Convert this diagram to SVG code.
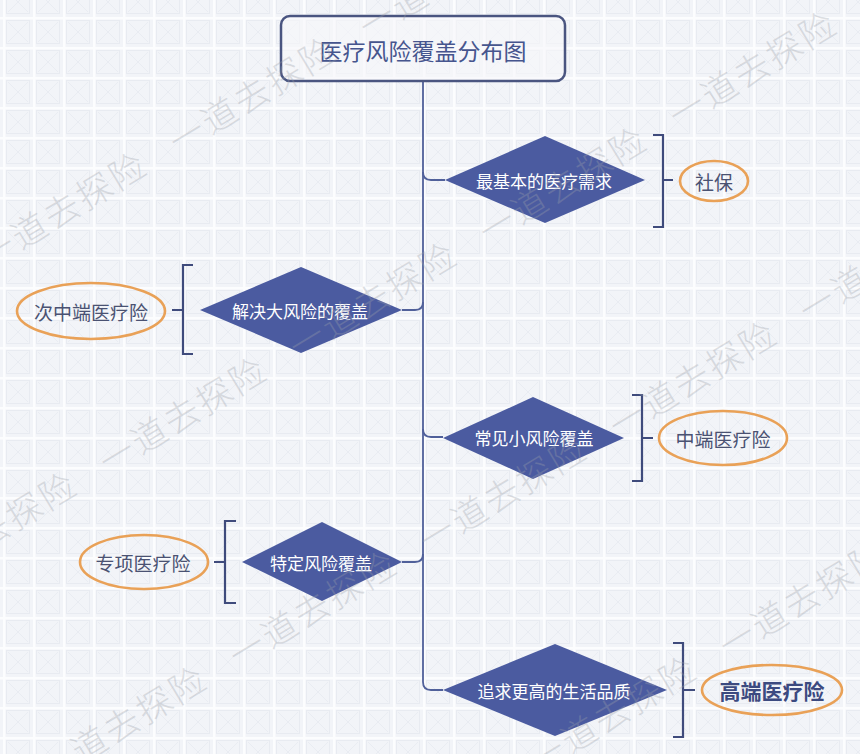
<svg xmlns="http://www.w3.org/2000/svg" width="860" height="754" viewBox="0 0 860 754">
<defs>
<pattern id="grid" x="3" y="17" width="30" height="30" patternUnits="userSpaceOnUse">
<rect width="30" height="30" fill="#f2f4f8"/>
<path d="M5,5 L25,25 M25,5 L5,25" stroke="#e9ecf2" stroke-width="1" fill="none"/>
<rect x="3.5" y="3.5" width="23" height="23" fill="none" stroke="#e8ebf1" stroke-width="1"/>
<rect x="0" y="0" width="2.5" height="30" fill="#fcfdfe"/>
<rect x="0" y="0" width="30" height="2.5" fill="#fcfdfe"/>
</pattern>
<style>
.conn{fill:none;stroke:#50609a;stroke-width:1.8}
.brk{fill:none;stroke:#3f4b7c;stroke-width:2.2}
.dia{fill:#4b5ba0}
.dt{font-family:"Noto Sans CJK SC","Noto Sans",sans-serif;font-size:17px;fill:#ffffff;text-anchor:middle;dominant-baseline:central}
.ell{fill:none;stroke:#e9a157;stroke-width:2.6}
.et{font-family:"Noto Sans CJK SC","Noto Sans",sans-serif;font-size:19px;fill:#4a5272;text-anchor:middle;dominant-baseline:central}
.etb{font-family:"Noto Sans CJK SC","Noto Sans",sans-serif;font-size:21px;font-weight:bold;fill:#3c4a80;text-anchor:middle;dominant-baseline:central}
.wm{font-family:"Noto Sans CJK SC",sans-serif;font-size:35px;font-weight:300;fill:#9ca1aa;opacity:0.32;letter-spacing:3px;dominant-baseline:central}
</style>
</defs>
<rect width="860" height="754" fill="url(#grid)"/>

<g id="connectors">
<path class="conn" d="M423,81 V682 Q423,690 431,690 H443"/>
<path class="conn" d="M423,172 Q423,180 431,180 H445"/>
<path class="conn" d="M423,302 Q423,310 415,310 H402"/>
<path class="conn" d="M423,429 Q423,437 431,437 H443"/>
<path class="conn" d="M423,554 Q423,562 415,562 H402"/>
<path class="brk" d="M653,135 H663 V227 H653 M663,180 H673"/>
<path class="brk" d="M193,265 H183 V354 H193 M183,310 H172"/>
<path class="brk" d="M632,395 H642 V481 H632 M642,438 H653"/>
<path class="brk" d="M236,521 H225 V603 H236 M225,562 H214"/>
<path class="brk" d="M673,643 H683 V737 H673 M683,690 H695"/>
</g>

<g id="title">
<rect x="281" y="16" width="284" height="65" rx="9" fill="#f6f7fa" fill-opacity="0.6" stroke="#4a5580" stroke-width="2.5"/>
<text x="423" y="50" font-family="'Noto Sans CJK SC','Noto Sans',sans-serif" font-size="23" fill="#46558e" text-anchor="middle" dominant-baseline="central">医疗风险覆盖分布图</text>
</g>

<g id="d1"><polygon class="dia" points="445,180 545,136 645,180 545,223"/><text class="dt" x="544" y="180">最基本的医疗需求</text></g>
<g id="d2"><polygon class="dia" points="200,310 301,267 402,310 301,353"/><text class="dt" x="300" y="310">解决大风险的覆盖</text></g>
<g id="d3"><polygon class="dia" points="443,438 533,397 624,438 533,479"/><text class="dt" x="534" y="437">常见小风险覆盖</text></g>
<g id="d4"><polygon class="dia" points="242,562 322,522 402,562 322,601"/><text class="dt" x="321" y="562">特定风险覆盖</text></g>
<g id="d5"><polygon class="dia" points="443,690 555,644 667,690 555,736"/><text class="dt" x="554" y="690">追求更高的生活品质</text></g>

<g id="e1"><ellipse class="ell" cx="714" cy="181" rx="34" ry="20"/><text class="et" x="714" y="181">社保</text></g>
<g id="e2"><ellipse class="ell" cx="91" cy="311" rx="74" ry="28"/><text class="et" x="91" y="311">次中端医疗险</text></g>
<g id="e3"><ellipse class="ell" cx="723" cy="438" rx="64" ry="27"/><text class="et" x="723" y="438">中端医疗险</text></g>
<g id="e4"><ellipse class="ell" cx="144" cy="562" rx="64" ry="27"/><text class="et" x="143" y="562">专项医疗险</text></g>
<g id="e5"><ellipse class="ell" cx="772" cy="690" rx="70" ry="25"/><text class="etb" x="772" y="690">高端医疗险</text></g>

<g id="watermarks">
<text class="wm" x="-17" y="0" transform="translate(-5,248) rotate(-31.2)">一道去探险</text>
<text class="wm" x="-17" y="0" transform="translate(185,133) rotate(-31.2)">一道去探险</text>
<text class="wm" x="-17" y="0" transform="translate(375,18) rotate(-31.2)">一道去探险</text>
<text class="wm" x="-17" y="0" transform="translate(-75,568) rotate(-31.2)">一道去探险</text>
<text class="wm" x="-17" y="0" transform="translate(115,453) rotate(-31.2)">一道去探险</text>
<text class="wm" x="-17" y="0" transform="translate(305,338) rotate(-31.2)">一道去探险</text>
<text class="wm" x="-17" y="0" transform="translate(495,223) rotate(-31.2)">一道去探险</text>
<text class="wm" x="-17" y="0" transform="translate(685,107) rotate(-31.2)">一道去探险</text>
<text class="wm" x="-17" y="0" transform="translate(55,762) rotate(-31.2)">一道去探险</text>
<text class="wm" x="-17" y="0" transform="translate(245,647) rotate(-31.2)">一道去探险</text>
<text class="wm" x="-17" y="0" transform="translate(435,532) rotate(-31.2)">一道去探险</text>
<text class="wm" x="-17" y="0" transform="translate(625,417) rotate(-31.2)">一道去探险</text>
<text class="wm" x="-17" y="0" transform="translate(815,302) rotate(-31.2)">一道去探险</text>
<text class="wm" x="-17" y="0" transform="translate(545,752) rotate(-31.2)">一道去探险</text>
<text class="wm" x="-17" y="0" transform="translate(735,637) rotate(-31.2)">一道去探险</text>
</g>
</svg>
